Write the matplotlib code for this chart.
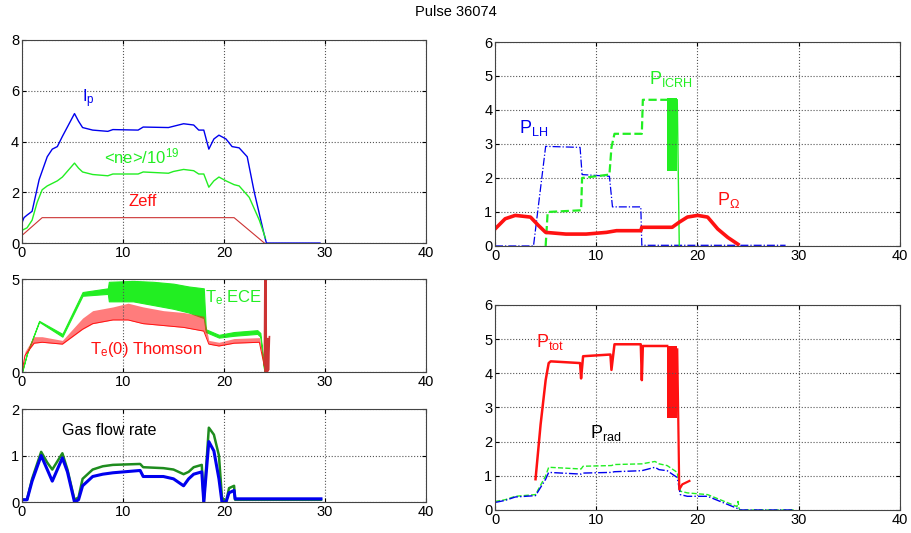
import matplotlib
matplotlib.use("Agg")
import matplotlib.pyplot as plt
import numpy as np

plt.rcParams['font.family'] = ['Liberation Sans', 'DejaVu Sans']
plt.rcParams['mathtext.fontset'] = 'custom'
plt.rcParams['mathtext.rm'] = 'Liberation Sans'
plt.rcParams['mathtext.it'] = 'Liberation Sans'

# ---- top left: Ip, <ne>, Zeff
ip_t = [0, 0.2, 0.5, 1, 1.7, 2.5, 3, 3.5, 4, 4.8, 5.2, 5.6, 6, 7, 8.5, 9, 11.5, 12, 14.5, 15, 16, 17,
        17.5, 18, 18.5, 19, 19.5, 20.2, 20.8, 21.5, 22.3, 23, 24, 24.2, 29.5]
ip_v = [0.8, 1.0, 1.1, 1.25, 2.5, 3.4, 3.7, 3.8, 4.2, 4.8, 5.1, 4.8, 4.55, 4.45, 4.4, 4.47, 4.45, 4.57,
        4.55, 4.6, 4.7, 4.65, 4.45, 4.45, 3.7, 4.1, 4.25, 4.1, 3.8, 3.75, 3.4, 2.0, 0.3, 0.0, 0.0]
ne_t = [0, 0.5, 1, 1.5, 2, 2.5, 3.5, 4, 5.2, 5.6, 6, 7, 8.5, 9, 11.5, 12, 14.5, 15, 16, 17, 17.5, 18,
        18.5, 19, 19.5, 20.2, 21, 21.5, 22.5, 23.5, 24.1]
ne_v = [0.5, 0.6, 0.9, 1.6, 2.1, 2.25, 2.45, 2.6, 3.15, 2.95, 2.8, 2.7, 2.65, 2.72, 2.72, 2.8, 2.75,
        2.82, 2.9, 2.85, 2.72, 2.72, 2.2, 2.45, 2.6, 2.45, 2.3, 2.25, 1.8, 0.9, 0.2]
zeff_t = [0, 2, 21, 24]
zeff_v = [0.3, 1.0, 1.0, 0.0]

# ---- middle left: Te ECE (band) and Te(0) Thomson (band)
ece_t = [0, 0.5, 1.7, 4, 6, 8.5, 8.6, 11, 13, 15, 16.5, 18, 18.2, 19.5, 21, 23.3, 23.6, 24]
ece_lo = [0.0, 1.0, 2.7, 1.9, 4.1, 4.2, 3.8, 3.8, 3.6, 3.4, 3.2, 2.9, 2.15, 1.85, 1.95, 2.05, 1.9, 0.0]
ece_hi = [0.0, 1.0, 2.75, 2.05, 4.3, 4.5, 4.85, 4.9, 4.85, 4.75, 4.6, 4.5, 2.3, 2.0, 2.15, 2.25, 2.1, 0.0]
th_t = [0, 0.3, 1.2, 2, 3, 4, 6, 7, 9, 10.5, 12, 14, 16, 17, 18, 18.5, 19.5, 21, 23.5, 24]
th_lo = [0.0, 0.9, 1.55, 1.6, 1.55, 1.5, 2.3, 2.6, 2.8, 2.8, 2.6, 2.5, 2.4, 2.3, 2.2, 1.5, 1.4, 1.55, 1.6, 0.3]
th_hi = [0.0, 1.1, 1.9, 1.9, 1.8, 1.7, 2.9, 3.3, 3.5, 3.7, 3.5, 3.3, 3.2, 3.1, 3.0, 1.7, 1.6, 1.8, 1.85, 0.5]
spike_t = [24.0, 24.05, 24.1, 24.15, 24.2, 24.25, 24.3, 24.35, 24.4, 24.5]
spike_v = [0.4, 5.0, 0.0, 5.0, 0.2, 1.6, 0.0, 1.8, 0.1, 1.9]

# ---- bottom left: gas flow rate (two valves)
gas_t = [0, 0.5, 1, 1.9, 2.5, 3, 4, 4.5, 5.2, 5.6, 6, 7, 8, 9, 11.7, 12, 14, 15, 16, 16.5, 17, 17.8,
         18, 18.5, 19, 19.5, 19.8, 20.2, 20.5, 21, 21.1, 29.6]
gas_g = [0.05, 0.05, 0.5, 1.08, 0.85, 0.7, 1.05, 0.7, 0.05, 0.1, 0.5, 0.7, 0.77, 0.8, 0.82, 0.75,
         0.73, 0.7, 0.6, 0.65, 0.75, 0.8, 0.0, 1.6, 1.45, 1.0, 0.1, 0.0, 0.3, 0.35, 0.05, 0.05]
gas_b = [0.05, 0.05, 0.45, 1.0, 0.7, 0.45, 0.95, 0.65, 0.0, 0.05, 0.35, 0.55, 0.6, 0.63, 0.68, 0.55,
         0.55, 0.5, 0.35, 0.5, 0.6, 0.65, 0.0, 1.3, 1.1, 0.5, 0.0, 0.0, 0.2, 0.25, 0.07, 0.07]

# ---- top right: heating powers
lh_t = [0, 3.8, 5.0, 8.4, 8.6, 11.3, 11.6, 14.4, 14.5, 28.7]
lh_v = [0, 0, 2.93, 2.9, 2.1, 2.05, 1.15, 1.15, 0.02, 0.02]
icrh_t = [5.0, 5.2, 8.5, 8.6, 11.3, 11.5, 11.8, 14.5, 14.6, 17.0]
icrh_v = [0.0, 1.0, 1.05, 2.0, 2.1, 2.9, 3.3, 3.3, 4.3, 4.3]
icrh_band_t = [17.0, 18.0]
icrh_band_lo = [2.2, 2.2]
icrh_band_hi = [4.35, 4.35]
icrh_tail_t = [18.0, 18.2]
icrh_tail_v = [4.3, 0.0]
ohm_t = [0, 1, 2, 3.5, 4.3, 5, 7, 9, 11, 12, 14.4, 14.5, 17.5, 18.2, 19, 20, 21, 22, 23, 24]
ohm_v = [0.5, 0.8, 0.9, 0.85, 0.6, 0.4, 0.35, 0.35, 0.4, 0.45, 0.45, 0.55, 0.55, 0.7, 0.85, 0.9,
         0.85, 0.5, 0.25, 0.05]

# ---- bottom right: Ptot, Prad
tot_t = [4.0, 4.5, 5.0, 5.3, 5.5, 8.4, 8.5, 8.7, 11.4, 11.5, 11.8, 14.4, 14.5, 14.6, 17.0]
tot_v = [0.9, 2.5, 3.8, 4.3, 4.35, 4.3, 3.85, 4.5, 4.55, 4.1, 4.85, 4.85, 3.8, 4.8, 4.8]
tot_band_t = [17.0, 18.0]
tot_band_lo = [2.7, 2.7]
tot_band_hi = [4.8, 4.8]
tot_tail_t = [18.0, 18.2, 18.5, 19.2]
tot_tail_v = [4.7, 0.6, 0.75, 0.85]
rad_t = [0, 1, 2, 4, 5, 5.3, 8.5, 8.7, 11.5, 11.8, 14.5, 15.8, 16.2, 17, 18, 18.3, 19, 21, 23.9, 24.0,
         24.1, 24.2, 29.5]
rad_g = [0.25, 0.3, 0.4, 0.45, 1.0, 1.25, 1.2, 1.28, 1.3, 1.33, 1.35, 1.42, 1.35, 1.3, 1.1, 0.55,
         0.5, 0.45, 0.1, 0.25, 0.05, 0.0, 0.0]
rad_b = [0.22, 0.28, 0.38, 0.42, 0.9, 1.1, 1.05, 1.08, 1.1, 1.12, 1.15, 1.25, 1.18, 1.15, 0.95, 0.45,
         0.4, 0.4, 0.05, 0.03, 0.0, 0.0, 0.0]

BLUE = '#0000ee'
GREEN = '#22ee22'
RED = '#ff1111'
DGREEN = '#1e8c1e'


def style(ax, ymax, yticks):
    ax.set_xlim(0, 40)
    ax.set_ylim(0, ymax)
    ax.set_xticks([0, 10, 20, 30, 40])
    ax.set_yticks(yticks)
    ax.grid(True, linestyle=':', color='#555555', linewidth=0.8)
    ax.tick_params(direction='in', top=True, right=True, labelsize=10.5, length=3, pad=2)
    for s in ax.spines.values():
        s.set_color('#444444')
        s.set_linewidth(0.8)


fig = plt.figure(figsize=(9.12, 5.33), dpi=100)
fig.text(0.5, 0.977, 'Pulse 36074', ha='center', va='center', fontsize=10.5)

ax1 = fig.add_axes([0.0241, 0.544, 0.443, 0.381])
ax1.plot(ip_t, ip_v, color=BLUE, lw=1.0)
ax1.plot(ne_t, ne_v, color=GREEN, lw=1.0)
ax1.plot(zeff_t, zeff_v, color='#cc3333', lw=0.8)
ax1.text(5.9, 5.7, r'I$_\mathregular{p}$', color=BLUE, fontsize=12, va='center')
ax1.text(8.1, 3.4, r'<ne>/10$^\mathregular{19}$', color=GREEN, fontsize=12, va='center')
ax1.text(10.5, 1.63, 'Zeff', color=RED, fontsize=12, va='center')
style(ax1, 8, [0, 2, 4, 6, 8])

ax2 = fig.add_axes([0.0241, 0.302, 0.443, 0.1745])
ax2.fill_between(ece_t, ece_lo, ece_hi, color=GREEN, lw=0.8)
ax2.fill_between(th_t, th_lo, th_hi, color=RED, lw=0, alpha=0.55)
ax2.plot(th_t, th_lo, color=RED, lw=0.7)
ax2.plot(spike_t, spike_v, color='#cc3333', lw=1.2)
ax2.text(18.1, 4.0, r'T$_\mathregular{e}$ ECE', color=GREEN, fontsize=12, va='center')
ax2.text(6.7, 1.2, r'T$_\mathregular{e}$(0) Thomson', color=RED, fontsize=12, va='center')
style(ax2, 5, [0, 5])

ax3 = fig.add_axes([0.0241, 0.058, 0.443, 0.1745])
ax3.plot(gas_t, gas_g, color=DGREEN, lw=1.8)
ax3.plot(gas_t, gas_b, color=BLUE, lw=2.2)
ax3.text(4.0, 1.55, 'Gas flow rate', color='black', fontsize=11.5, va='center')
style(ax3, 2, [0, 1, 2])

ax4 = fig.add_axes([0.5428, 0.5385, 0.444, 0.3827])
ax4.plot(lh_t, lh_v, color=BLUE, lw=0.9, ls='-.')
ax4.plot(icrh_t, icrh_v, color=GREEN, lw=1.6, ls='--')
ax4.fill_between(icrh_band_t, icrh_band_lo, icrh_band_hi, color=GREEN, lw=0)
ax4.plot(icrh_tail_t, icrh_tail_v, color=GREEN, lw=1.0)
ax4.plot(ohm_t, ohm_v, color=RED, lw=2.6)
ax4.text(2.4, 3.47, r'P$_\mathregular{LH}$', color=BLUE, fontsize=13, va='center')
ax4.text(15.2, 4.9, r'P$_\mathregular{ICRH}$', color=GREEN, fontsize=13, va='center')
ax4.text(21.9, 1.35, r'P$_\mathregular{\Omega}$', color=RED, fontsize=13, va='center')
style(ax4, 6, [0, 1, 2, 3, 4, 5, 6])

ax5 = fig.add_axes([0.5428, 0.0432, 0.444, 0.3846])
ax5.plot(rad_t, rad_g, color=GREEN, lw=1.0, ls='--')
ax5.plot(rad_t, rad_b, color=BLUE, lw=1.0, ls='-.')
ax5.plot(tot_t, tot_v, color=RED, lw=1.8)
ax5.fill_between(tot_band_t, tot_band_lo, tot_band_hi, color=RED, lw=0)
ax5.plot(tot_tail_t, tot_tail_v, color=RED, lw=1.6)
ax5.text(4.0, 4.93, r'P$_\mathregular{tot}$', color=RED, fontsize=13, va='center')
ax5.text(9.4, 2.26, r'P$_\mathregular{rad}$', color='black', fontsize=13, va='center')
style(ax5, 6, [0, 1, 2, 3, 4, 5, 6])

fig.savefig('out.png', dpi=100)
